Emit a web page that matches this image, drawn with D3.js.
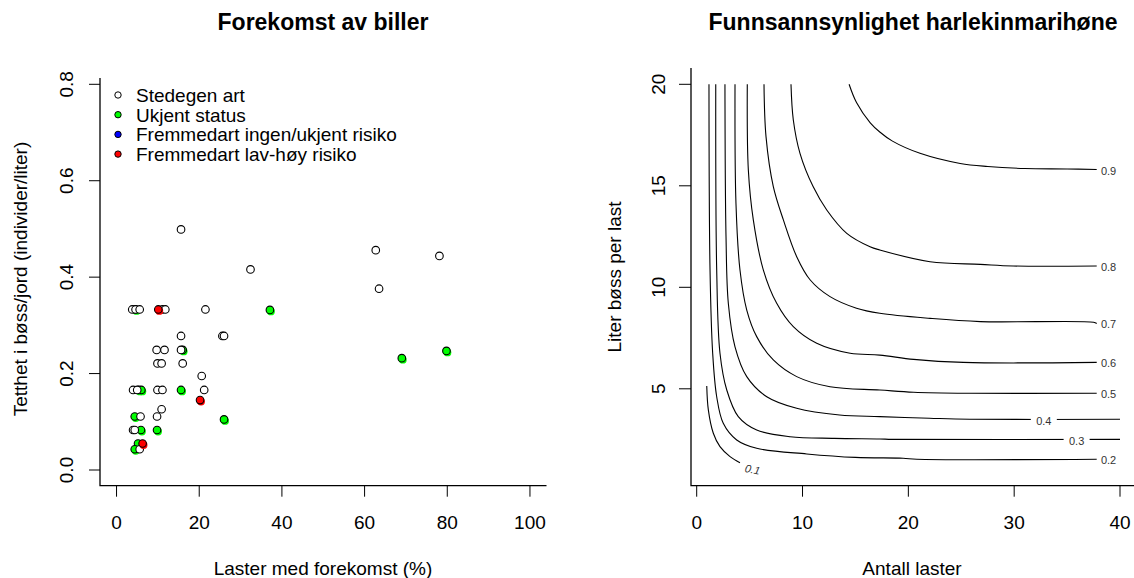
<!DOCTYPE html>
<html>
<head>
<meta charset="utf-8">
<script src="https://cdn.jsdelivr.net/npm/d3@7"></script>
<style>
  body { margin: 0; background: #fff; }
  text { font-family: "Liberation Sans", Arial, sans-serif; }
</style>
</head>
<body>
<script>
// --- data: venstre panel (forekomst av biller) ---
// [laster med forekomst (%), tetthet (individer/liter)]
var stedegen = [
  [15.6,0.499],[32.4,0.416],[62.7,0.456],[78.1,0.444],[63.5,0.376],
  [3.8,0.333],[4.6,0.333],[5.6,0.333],[11.1,0.333],[11.8,0.333],[21.5,0.333],
  [15.6,0.278],[25.6,0.278],[26.0,0.278],
  [9.7,0.249],[11.6,0.249],[15.6,0.249],
  [9.9,0.221],[10.9,0.221],[16.0,0.221],
  [20.6,0.195],
  [4.0,0.166],[5.0,0.166],[9.9,0.166],[11.1,0.166],[21.2,0.166],
  [10.9,0.126],[5.8,0.111],[9.8,0.111],
  [4.0,0.083],[4.4,0.083],[5.6,0.043]
];
var ukjent = [
  [4.6,0.333],[37.1,0.332],[69.0,0.232],[79.8,0.247],[16.0,0.249],
  [5.4,0.166],[6.0,0.166],[15.6,0.166],[4.4,0.111],[26.0,0.105],
  [5.9,0.083],[9.8,0.083],[5.2,0.055],[4.4,0.043]
];
var fremmedIngen = [];
var fremmedLav = [[10.1,0.333],[20.2,0.145],[6.3,0.055]];

var legendTekst = ["Stedegen art", "Ukjent status", "Fremmedart ingen/ukjent risiko", "Fremmedart lav-høy risiko"];
var legendFarge = ["#ffffff", "#00ff00", "#0000ff", "#ff0000"];

var xTicksV = [0, 20, 40, 60, 80, 100];
var yTicksV = [0, 0.2, 0.4, 0.6, 0.8];

// --- data: høyre panel (konturer), [antall laster, liter per last] ---
var k01 = [[0.95,5.14],[1.10,3.96],[1.57,2.81],[2.2,2.15],[3.15,1.66],[4.09,1.36]];
var k02 = [[1.16,20],[1.26,10.85],[1.51,6.75],[1.89,4.61],[2.51,3.3],[3.78,2.48],[5.67,2.07],[10.4,1.79],[15,1.62],[19.5,1.58],[20.8,1.53],[37.8,1.53]];
var k03 = [[1.80,20],[1.89,10.85],[2.2,6.75],[2.84,4.94],[3.93,3.63],[5.67,2.97],[8.82,2.64],[13,2.56],[17.3,2.53],[18.5,2.51],[40,2.51]];
var k04 = [[2.67,20],[2.77,12.5],[2.99,9.2],[3.62,7.07],[4.73,5.6],[6.62,4.61],[9.45,4.04],[13.5,3.71],[17.3,3.63],[22,3.55],[25.8,3.50],[40,3.50]];
var k05 = [[3.62,20],[3.71,14.14],[4.09,10.85],[4.73,8.88],[5.67,7.57],[7.24,6.42],[9.45,5.6],[12.6,5.1],[17.3,4.94],[20.5,4.83],[25.8,4.78],[37.8,4.78]];
var k06 = [[4.78,20],[4.88,15.78],[5.35,13.32],[6.3,10.85],[7.56,9.21],[9.13,8.06],[11.34,7.24],[14.5,6.75],[17.3,6.66],[20.5,6.45],[25.2,6.30],[37.8,6.30]];
var k07 = [[6.36,20],[6.55,17.42],[7.24,14.96],[8.19,13.32],[9.45,11.51],[10.73,10.36],[12.6,9.54],[15.1,8.97],[17.3,8.72],[22.05,8.47],[26.8,8.31],[37.5,8.28],[37.8,8.22]];
var k08 = [[8.91,20],[9.13,18.24],[9.76,16.6],[11.0,14.96],[12.29,13.81],[14.18,12.66],[16.38,12.0],[17.3,11.84],[22.05,11.26],[26.8,11.13],[29.9,11.05],[37.8,11.05]];
var k09 = [[14.4,20],[15.1,19.1],[16.4,18.1],[17.3,17.65],[18.5,17.2],[21.1,16.6],[24.9,16.1],[27.5,15.95],[31,15.85],[35,15.83],[37.8,15.8]];

var konturer = [k01, k02, k03, k04, k05, k06, k07, k08, k09];
var konturNivaa = ["0.1", "0.2", "0.3", "0.4", "0.5", "0.6", "0.7", "0.8", "0.9"];
// hvor etiketten sitter langs linja (x-verdi)
var etikettX = [4.3, 38.2, 35.9, 32.8, 38.2, 38.2, 38.2, 38.2, 38.2];

var xTicksH = [0, 10, 20, 30, 40];
var yTicksH = [5, 10, 15, 20];

var W = 1134, H = 578;
var fs = 19;

var svg = d3.select("body").append("svg")
    .attr("width", W)
    .attr("height", H);

// ================= VENSTRE PANEL =================
var xV = d3.scaleLinear().domain([-4, 104]).range([100, 546.5]);
var yV = d3.scaleLinear().domain([0, 0.8]).range([470, 84.3]);
var topV = 78, bunn = 485.7;

var gV = svg.append("g");

// box (bty = "l")
gV.append("path")
    .attr("d", "M100," + topV + "V" + bunn + "H546.5")
    .attr("fill", "none").attr("stroke", "#000").attr("stroke-width", 1.3);

// x-akse
gV.selectAll(".xt").data(xTicksV).enter().append("line")
    .attr("x1", function(d) { return xV(d); }).attr("x2", function(d) { return xV(d); })
    .attr("y1", bunn).attr("y2", bunn + 11)
    .attr("stroke", "#000");
gV.selectAll(".xl").data(xTicksV).enter().append("text")
    .attr("x", function(d) { return xV(d); })
    .attr("y", 528.5)
    .attr("text-anchor", "middle")
    .attr("font-size", fs)
    .text(function(d) { return d; });

// y-akse
gV.selectAll(".yt").data(yTicksV).enter().append("line")
    .attr("x1", 89).attr("x2", 100)
    .attr("y1", function(d) { return yV(d); }).attr("y2", function(d) { return yV(d); })
    .attr("stroke", "#000");
gV.selectAll(".yl").data(yTicksV).enter().append("text")
    .attr("transform", function(d) { return "translate(73," + yV(d) + ") rotate(-90)"; })
    .attr("text-anchor", "middle")
    .attr("font-size", fs)
    .text(function(d) { return d3.format(".1f")(d); });

// titler
gV.append("text").attr("x", 323).attr("y", 30)
    .attr("text-anchor", "middle").attr("font-size", 23).attr("font-weight", "bold")
    .text("Forekomst av biller");
gV.append("text").attr("x", 323).attr("y", 575)
    .attr("text-anchor", "middle").attr("font-size", fs)
    .text("Laster med forekomst (%)");
gV.append("text")
    .attr("transform", "translate(27,279) rotate(-90)")
    .attr("text-anchor", "middle").attr("font-size", fs)
    .text("Tetthet i bøss/jord (individer/liter)");

// punkter
function tegnPunkter(data, farge, skygge) {
  if (skygge) {
    gV.append("g").selectAll("circle").data(data).enter().append("circle")
        .attr("cx", function(d) { return xV(d[0]) + 1; })
        .attr("cy", function(d) { return yV(d[1]) + 1.5; })
        .attr("r", 3.9)
        .attr("fill", farge);
  }
  gV.append("g").selectAll("circle").data(data).enter().append("circle")
      .attr("cx", function(d) { return xV(d[0]); })
      .attr("cy", function(d) { return yV(d[1]); })
      .attr("r", 3.8)
      .attr("fill", farge)
      .attr("stroke", "#000")
      .attr("stroke-width", 1.1);
}
tegnPunkter(ukjent, legendFarge[1], true);
tegnPunkter(stedegen, legendFarge[0], false);
tegnPunkter(fremmedIngen, legendFarge[2], true);
tegnPunkter(fremmedLav, legendFarge[3], true);

// legend
var leg = gV.append("g");
leg.selectAll("circle").data(legendTekst).enter().append("circle")
    .attr("cx", 118)
    .attr("cy", function(d, i) { return 95 + i * 19.7; })
    .attr("r", 3.2)
    .attr("fill", function(d, i) { return legendFarge[i]; })
    .attr("stroke", "#000").attr("stroke-width", 1);
leg.selectAll("text").data(legendTekst).enter().append("text")
    .attr("x", 136)
    .attr("y", function(d, i) { return 95 + i * 19.7 + 7; })
    .attr("font-size", fs)
    .text(function(d) { return d; });

// ================= HØYRE PANEL =================
var xH = d3.scaleLinear().domain([0, 40]).range([696.7, 1120]);
var yH = d3.scaleLinear().domain([0, 20]).range([490.3, 84.3]);
var gH = svg.append("g");

gH.append("path")
    .attr("d", "M691,68V" + bunn + "H1134")
    .attr("fill", "none").attr("stroke", "#000").attr("stroke-width", 1.3);

gH.selectAll(".xt").data(xTicksH).enter().append("line")
    .attr("x1", function(d) { return xH(d); }).attr("x2", function(d) { return xH(d); })
    .attr("y1", bunn).attr("y2", bunn + 11)
    .attr("stroke", "#000");
gH.selectAll(".xl").data(xTicksH).enter().append("text")
    .attr("x", function(d) { return xH(d); })
    .attr("y", 528.5)
    .attr("text-anchor", "middle")
    .attr("font-size", fs)
    .text(function(d) { return d; });

gH.selectAll(".yt").data(yTicksH).enter().append("line")
    .attr("x1", 679).attr("x2", 691)
    .attr("y1", function(d) { return yH(d); }).attr("y2", function(d) { return yH(d); })
    .attr("stroke", "#000");
gH.selectAll(".yl").data(yTicksH).enter().append("text")
    .attr("transform", function(d) { return "translate(665," + yH(d) + ") rotate(-90)"; })
    .attr("text-anchor", "middle")
    .attr("font-size", fs)
    .text(function(d) { return d; });

gH.append("text").attr("x", 913).attr("y", 30)
    .attr("text-anchor", "middle").attr("font-size", 23).attr("font-weight", "bold")
    .text("Funnsannsynlighet harlekinmarihøne");
gH.append("text").attr("x", 912).attr("y", 575)
    .attr("text-anchor", "middle").attr("font-size", fs)
    .text("Antall laster");
gH.append("text")
    .attr("transform", "translate(621,277) rotate(-90)")
    .attr("text-anchor", "middle").attr("font-size", fs)
    .text("Liter bøss per last");

var linje = d3.line()
    .curve(d3.curveCatmullRom.alpha(0.5))
    .x(function(d) { return xH(d[0]); })
    .y(function(d) { return yH(d[1]); });

gH.selectAll(".kontur").data(konturer).enter().append("path")
    .attr("class", "kontur")
    .attr("d", linje)
    .attr("fill", "none")
    .attr("stroke", "#000")
    .attr("stroke-width", 1.1);

// etiketter
konturer.forEach(function(k, i) {
  var ex = etikettX[i];
  var siste = k[k.length - 1];
  if (i === 0) {
    gH.append("text")
        .attr("transform", "translate(" + (xH(ex) + 2) + "," + (yH(siste[1]) + 9) + ") rotate(12)")
        .attr("font-size", 11).attr("font-style", "italic").attr("fill", "#333")
        .text(konturNivaa[i]);
    return;
  }
  var ly = yH(siste[1]);
  if (ex < 37) {
    // etiketten ligger inne i linja, med et hull rundt
    gH.append("rect")
        .attr("x", xH(ex) - 13).attr("y", ly - 5)
        .attr("width", 26).attr("height", 10)
        .attr("fill", "#fff");
    gH.append("text")
        .attr("x", xH(ex)).attr("y", ly + 6)
        .attr("text-anchor", "middle")
        .attr("font-size", 11).attr("fill", "#333")
        .text(konturNivaa[i]);
  } else {
    gH.append("text")
        .attr("x", xH(ex)).attr("y", ly + 5)
        .attr("font-size", 11).attr("fill", "#333")
        .text(konturNivaa[i]);
  }
});
</script>
</body>
</html>
